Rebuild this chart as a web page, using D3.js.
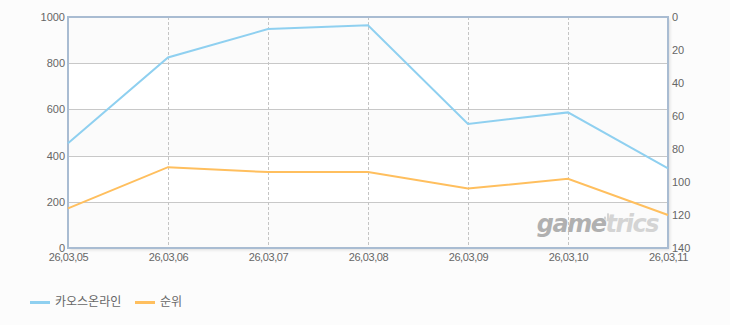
<!DOCTYPE html>
<html>
<head>
<meta charset="utf-8">
<script src="https://cdn.jsdelivr.net/npm/d3@7"></script>
<style>
  body { margin: 0; background: #fcfcfc; }
  svg text { font-family: "Liberation Sans", "Noto Sans CJK KR", sans-serif; }
</style>
</head>
<body>
<div class="container"></div>
<script>
// data
var dates = ['26,03,05', '26,03,06', '26,03,07', '26,03,08', '26,03,09', '26,03,10', '26,03,11'];
var users = [453, 825, 948, 964, 537, 587, 345];   // 카오스온라인 (left axis)
var rank = [116, 91, 94, 94, 104, 98, 120];        // 순위 (right axis, reversed)
var leftTicks = [0, 200, 400, 600, 800, 1000];
var rightTicks = [0, 20, 40, 60, 80, 100, 120, 140];
var seriesNames = ['카오스온라인', '순위'];
var seriesColors = ['#8fd0f0', '#ffbf5e'];

var W = 730, H = 325;
var margin = { top: 17, right: 62, bottom: 77, left: 68 },
  width = W - margin.left - margin.right,
  height = H - margin.top - margin.bottom;

var svg = d3
  .select('.container')
  .append('svg')
  .attr('width', W)
  .attr('height', H);

var defs = svg.append('defs');
var f = defs.append('filter').attr('id', 'shadow').attr('x', '-5%').attr('y', '-5%').attr('width', '110%').attr('height', '110%');
f.append('feDropShadow').attr('dx', 2).attr('dy', 2).attr('stdDeviation', 1.5).attr('flood-color', '#000').attr('flood-opacity', 0.12);

var g = svg.append('g').attr('transform', 'translate(' + margin.left + ',' + margin.top + ')');

var x = d3.scalePoint().domain(dates).range([0, width]);
var yL = d3.scaleLinear().domain([0, 1000]).range([height, 0]);
var yR = d3.scaleLinear().domain([0, 140]).range([0, height]);

// plot background + shadow
g.append('rect')
  .attr('width', width)
  .attr('height', height)
  .attr('fill', '#fbfbfb')
  .attr('filter', 'url(#shadow)');

// alternate bands
for (var i = 0; i < leftTicks.length - 1; i++) {
  if (i % 2 == 1) {
    g.append('rect')
      .attr('x', 0)
      .attr('y', yL(leftTicks[i + 1]))
      .attr('width', width)
      .attr('height', yL(leftTicks[i]) - yL(leftTicks[i + 1]))
      .attr('fill', '#ffffff');
  }
}

// horizontal grid
g.selectAll('line.hgrid')
  .data(leftTicks.slice(1, -1))
  .enter()
  .append('line')
  .attr('class', 'hgrid')
  .attr('x1', 0)
  .attr('x2', width)
  .attr('y1', function (d) { return Math.round(yL(d)) + 0.5; })
  .attr('y2', function (d) { return Math.round(yL(d)) + 0.5; })
  .attr('stroke', '#c8c8c8')
  .attr('stroke-width', 1);

// vertical dashed grid
g.selectAll('line.vgrid')
  .data(dates.slice(1, -1))
  .enter()
  .append('line')
  .attr('class', 'vgrid')
  .attr('x1', function (d) { return Math.round(x(d)) + 0.5; })
  .attr('x2', function (d) { return Math.round(x(d)) + 0.5; })
  .attr('y1', 0)
  .attr('y2', height)
  .attr('stroke', '#c4c4c4')
  .attr('stroke-dasharray', '3,2');

// frame
g.append('rect')
  .attr('width', width)
  .attr('height', height)
  .attr('fill', 'none')
  .attr('stroke', '#a9bcd2')
  .attr('stroke-width', 2);

// watermark
var wm = g.append('text')
  .attr('x', x(dates[6]) - 10)
  .attr('y', yR(130))
  .attr('text-anchor', 'end')
  .style('font-family', '"DejaVu Sans", sans-serif')
  .style('font-size', '24px')
  .style('font-weight', 'bold')
  .style('font-style', 'italic')
  .style('letter-spacing', '-1.5px');
wm.append('tspan').attr('fill', '#b0b0b0').text('game');
wm.append('tspan').attr('fill', '#d4d4d4').text('trics');
g.append('rect').attr('x', x(dates[5]) + 39).attr('y', yR(119)).attr('width', 2).attr('height', 6).attr('fill', '#d4d4d4');
g.append('rect').attr('x', x(dates[5]) + 36).attr('y', yR(121)).attr('width', 2).attr('height', 3).attr('fill', '#d4d4d4');

// lines
var lineL = d3.line()
  .x(function (d, i) { return x(dates[i]); })
  .y(function (d) { return yL(d); });
var lineR = d3.line()
  .x(function (d, i) { return x(dates[i]); })
  .y(function (d) { return yR(d); });

g.append('path')
  .datum(users)
  .attr('d', lineL)
  .attr('fill', 'none')
  .attr('stroke', seriesColors[0])
  .attr('stroke-width', 2);

g.append('path')
  .datum(rank)
  .attr('d', lineR)
  .attr('fill', 'none')
  .attr('stroke', seriesColors[1])
  .attr('stroke-width', 2);

// axes
var axisStyle = function (sel) {
  sel.select('.domain').remove();
  sel.selectAll('.tick line').remove();
  sel.selectAll('text')
    .attr('fill', '#666')
    .style('font-size', '11px');
};

g.append('g')
  .call(d3.axisLeft(yL).tickValues(leftTicks).tickFormat(d3.format('d')).tickSize(0).tickPadding(3))
  .call(axisStyle);

g.append('g')
  .attr('transform', 'translate(' + width + ',0)')
  .call(d3.axisRight(yR).tickValues(rightTicks).tickFormat(d3.format('d')).tickSize(0).tickPadding(4))
  .call(axisStyle);

g.append('g')
  .attr('transform', 'translate(0,' + height + ')')
  .call(d3.axisBottom(x).tickSize(0).tickPadding(5))
  .call(axisStyle)
  .selectAll('text')
  .style('letter-spacing', '-0.4px');

// legend
var legend = svg.append('g').attr('transform', 'translate(30,302)');
var legX = [0, 105];
seriesNames.forEach(function (name, i) {
  var lg = legend.append('g').attr('transform', 'translate(' + legX[i] + ',0)');
  lg.append('rect')
    .attr('x', 0)
    .attr('y', -1)
    .attr('width', 20)
    .attr('height', 3)
    .attr('fill', seriesColors[i]);
  lg.append('text')
    .attr('x', 25)
    .attr('y', 0)
    .attr('dy', '0.35em')
    .attr('fill', '#666')
    .style('font-size', '12px')
    .text(name);
});
</script>
</body>
</html>
